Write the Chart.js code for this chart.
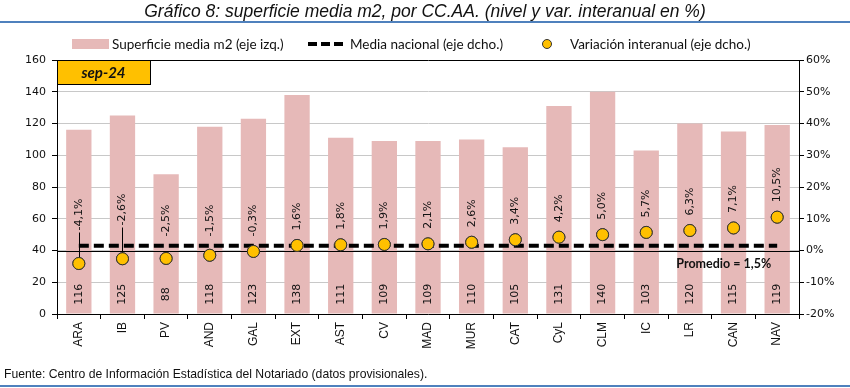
<!DOCTYPE html>
<html>
<head>
<meta charset="utf-8">
<script src="https://cdn.jsdelivr.net/npm/chart.js@4.4.1/dist/chart.umd.min.js"></script>
<style>
  html, body { margin:0; padding:0; background:#fff; }
  #wrap { position:relative; width:850px; height:388px; overflow:hidden; }
  #c { position:absolute; left:0; top:0; }
  #title { position:absolute; left:0; top:1px; width:850px; text-align:center;
    font-family:"Liberation Sans",Arial,sans-serif; font-style:italic;
    font-size:17.5px; color:#111; white-space:nowrap; }
  .bline { position:absolute; left:0; width:850px; height:2px; background:#4f81bd; }
  #legend { position:absolute; top:36px; left:0; height:16px; font-family:Lato,"Noto Sans",sans-serif;
    font-size:13.5px; color:#111; white-space:nowrap; }
  #legend span { position:absolute; top:0; line-height:16px; }
  #footer { position:absolute; left:4px; top:367px; font-family:"Liberation Sans",Arial,sans-serif;
    font-size:12.2px; color:#111; white-space:nowrap; }
</style>
</head>
<body>
<div id="wrap">
  <canvas id="c" width="850" height="388"></canvas>
  <div id="title">Gráfico 8: superficie media m2, por CC.AA. (nivel y var. interanual en %)</div>
  <div class="bline" style="top:21px"></div>
  <div id="legend">
    <div style="position:absolute;left:72px;top:3px;width:37px;height:10px;background:#e6b9b8"></div>
    <span style="left:112px">Superficie media m2 (eje izq.)</span>
    <svg style="position:absolute;left:306px;top:0" width="40" height="16"><line x1="2" y1="8" x2="38" y2="8" stroke="#000" stroke-width="4" stroke-dasharray="9,4"/></svg>
    <span style="left:350px">Media nacional (eje dcho.)</span>
    <svg style="position:absolute;left:540px;top:1px" width="14" height="14"><circle cx="7" cy="7" r="4.5" fill="#ffc000" stroke="#333" stroke-width="1"/></svg>
    <span style="left:570px">Variación interanual (eje dcho.)</span>
  </div>
  <div id="footer">Fuente: Centro de Información Estadística del Notariado (datos provisionales).</div>
  <div class="bline" style="top:385px"></div>
</div>
<script>
const categories = ['ARA','IB','PV','AND','GAL','EXT','AST','CV','MAD','MUR','CAT','CyL','CLM','IC','LR','CAN','NAV'];
const superficie = [116,125,88,118,123,138,111,109,109,110,105,131,140,103,120,115,119];
const variacion = [-4.1,-2.6,-2.5,-1.5,-0.3,1.6,1.8,1.9,2.1,2.6,3.4,4.2,5.0,5.7,6.3,7.1,10.5];
const mediaNacional = [1.5,1.5,1.5,1.5,1.5,1.5,1.5,1.5,1.5,1.5,1.5,1.5,1.5,1.5,1.5,1.5,1.5];
const leftTicks = [0,20,40,60,80,100,120,140,160];
const rightTicks = [-20,-10,0,10,20,30,40,50,60];
const periodo = 'sep-24';
const promedioTxt = 'Promedio = 1,5%';

const fmt = v => v.toFixed(1).replace('.', ',') + '%';
const tickFont = { family: 'DejaVu Sans', size: 11 };

const labelsPlugin = {
  id: 'customLabels',
  afterDatasetDraw(chart, args) {
    if (args.index !== 0) return;
    const ctx = chart.ctx, a = chart.chartArea, y2 = chart.scales.y2;
    const z = y2.getPixelForValue(0);
    ctx.save();
    ctx.strokeStyle = '#000'; ctx.lineWidth = 1;
    ctx.beginPath(); ctx.moveTo(a.left, Math.round(z) + 0.5); ctx.lineTo(a.right, Math.round(z) + 0.5); ctx.stroke();
    ctx.restore();
  },
  afterDatasetsDraw(chart) {
    const ctx = chart.ctx, a = chart.chartArea;
    const y = chart.scales.y, y2 = chart.scales.y2;
    const z = y2.getPixelForValue(0);
    ctx.save();
    ctx.fillStyle = '#111';
    ctx.font = '11px "DejaVu Sans"';
    const barMeta = chart.getDatasetMeta(0);
    barMeta.data.forEach((el, i) => {
      ctx.save();
      ctx.translate(el.x, y.getPixelForValue(12.5));
      ctx.rotate(-Math.PI / 2);
      ctx.textAlign = 'center'; ctx.textBaseline = 'middle';
      ctx.fillText(String(superficie[i]), 0, 0);
      ctx.restore();
    });
    const ptMeta = chart.getDatasetMeta(2);
    const lift = { 0: 6, 1: 11 };
    ptMeta.data.forEach((el, i) => {
      let bottom = variacion[i] < 0 ? z - 14 : el.y - 15;
      if (lift[i]) bottom -= lift[i];
      if (lift[i]) {
        ctx.save(); ctx.strokeStyle = '#000'; ctx.lineWidth = 1;
        ctx.beginPath(); ctx.moveTo(Math.round(el.x) + 0.5, bottom + 2); ctx.lineTo(Math.round(el.x) + 0.5, el.y); ctx.stroke();
        ctx.restore();
      }
      ctx.save();
      ctx.fillStyle = '#111';
      ctx.translate(el.x, bottom);
      ctx.rotate(-Math.PI / 2);
      ctx.textAlign = 'left'; ctx.textBaseline = 'middle';
      ctx.fillText(fmt(variacion[i]), 0, 0);
      ctx.restore();
    });
    ptMeta.data.forEach(el => el.draw(ctx, a));
    const xs = chart.scales.x;
    ctx.fillStyle = '#111';
    ctx.font = 'bold 12.5px Lato';
    ctx.textAlign = 'right'; ctx.textBaseline = 'middle';
    ctx.fillText(promedioTxt, xs.getPixelForValue(categories.length - 1) - 6, z + 13);
    const bx = a.left, by = a.top, bw = 93, bh = 24;
    ctx.fillStyle = '#ffc000';
    ctx.fillRect(bx, by, bw, bh);
    ctx.strokeStyle = '#000'; ctx.lineWidth = 1;
    ctx.strokeRect(bx + 0.5, by + 0.5, bw, bh);
    ctx.fillStyle = '#111';
    ctx.font = 'italic bold 15px Lato';
    ctx.textAlign = 'center';
    ctx.fillText(periodo, bx + bw / 2, by + bh / 2 + 1);
    ctx.restore();
  }
};

new Chart(document.getElementById('c'), {
  data: {
    labels: categories,
    datasets: [
      { type: 'bar', data: superficie, yAxisID: 'y', backgroundColor: '#e6b9b8', borderWidth: 0,
        barPercentage: 0.58, categoryPercentage: 1, order: 3 },
      { type: 'line', data: mediaNacional, yAxisID: 'y2', borderColor: '#000', borderWidth: 4,
        borderDash: [10, 5], pointRadius: 0, fill: false, order: 2 },
      { type: 'line', data: variacion, yAxisID: 'y2', showLine: false, pointRadius: 6,
        pointBackgroundColor: '#ffc000', pointBorderColor: '#333', pointBorderWidth: 1, order: 1 }
    ]
  },
  options: {
    responsive: false,
    animation: false,
    devicePixelRatio: 1,
    layout: { padding: { top: 60, left: 0, right: 0, bottom: 0 } },
    plugins: { legend: { display: false }, tooltip: { enabled: false } },
    scales: {
      x: {
        offset: true,
        grid: { drawOnChartArea: false, offset: true, tickLength: 5, tickColor: '#000' },
        border: { color: '#000' },
        ticks: { minRotation: 90, maxRotation: 90, padding: 3, color: '#111',
          font: { family: 'Liberation Sans', size: 12 } },
        afterFit(s) { s.height = 74; }
      },
      y: {
        position: 'left', min: 0, max: 160,
        afterBuildTicks(s) { s.ticks = leftTicks.map(v => ({ value: v })); },
        grid: { color: c => (c.tick && c.tick.value === 160) ? '#000' : '#c8c8c8', tickColor: '#000', tickLength: 5 },
        border: { color: '#000' },
        ticks: { color: '#111', font: tickFont, padding: 6 },
        afterFit(s) { s.width = 57; }
      },
      y2: {
        position: 'right', min: -20, max: 60,
        afterBuildTicks(s) { s.ticks = rightTicks.map(v => ({ value: v })); },
        grid: { drawOnChartArea: false, tickColor: '#000', tickLength: 5 },
        border: { color: '#000' },
        ticks: { color: '#111', font: tickFont, padding: 2, callback: v => v + '%' },
        afterFit(s) { s.width = 51; }
      }
    }
  },
  plugins: [labelsPlugin]
});
</script>
</body>
</html>
